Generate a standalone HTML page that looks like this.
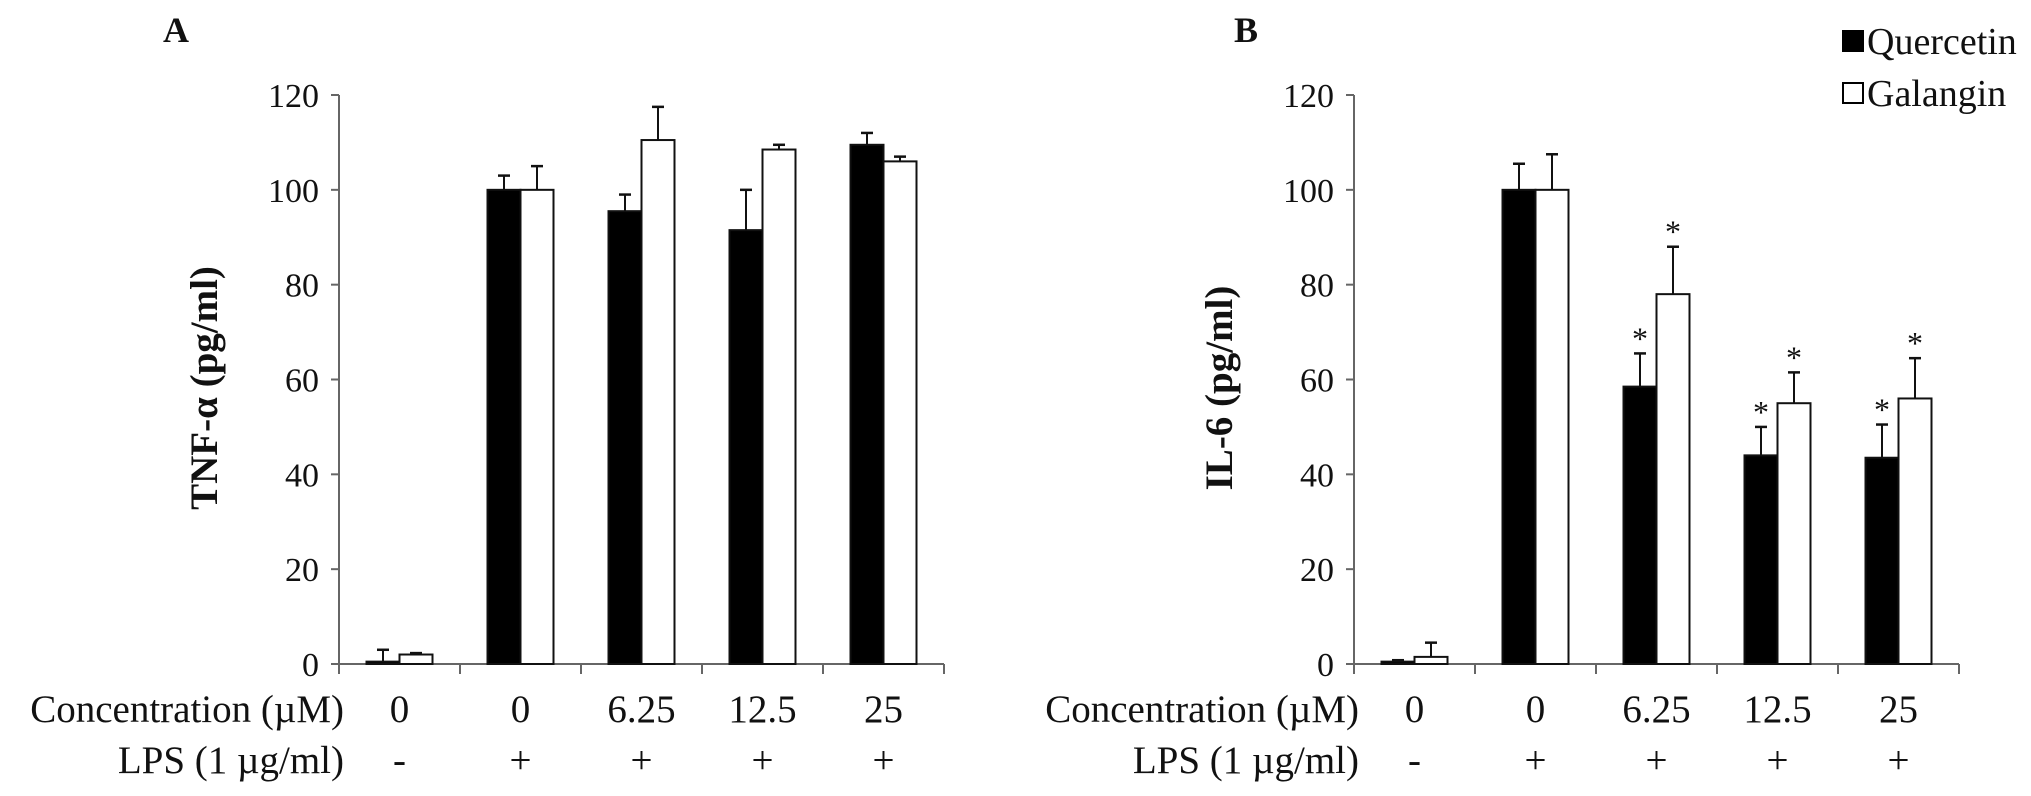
<!DOCTYPE html>
<html><head><meta charset="utf-8"><style>
html,body{margin:0;padding:0;background:#fff;}
svg{display:block;font-family:"Liberation Serif",serif;}
</style></head><body>
<svg id="c" width="2031" height="796" viewBox="0 0 2031 796"></svg>
<script>
const categories = ["0","0","6.25","12.5","25"];
const lpsLabels = ["-","+","+","+","+"];
const yTicks = [0,20,40,60,80,100,120];
const aQuercetin = [0.5,100,95.5,91.5,109.5];
const aQuercetinErr = [2.5,3,3.5,8.5,2.5];
const aGalangin = [2,100,110.5,108.5,106];
const aGalanginErr = [0.3,5,7,1,1];
const bQuercetin = [0.5,100,58.5,44,43.5];
const bQuercetinErr = [0.3,5.5,7,6,7];
const bGalangin = [1.5,100,78,55,56];
const bGalanginErr = [3,7.5,10,6.5,8.5];
const bQuercetinSig = [false,false,true,true,true];
const bGalanginSig = [false,false,true,true,true];

const svg = document.getElementById('c');
const NS = 'http://www.w3.org/2000/svg';
function mk(tag, attrs, parent){
  const e = document.createElementNS(NS, tag);
  for (const k in attrs) e.setAttribute(k, attrs[k]);
  (parent||svg).appendChild(e);
  return e;
}
const Y0 = 664, Y120 = 95;
function yS(v){ return Y0 - (v/120)*(Y0-Y120); }

function panel(cfg){
  const g = mk('g', {});
  
  
  const ax = cfg.ax, cw = 121, bw = 33;
  function xC(i){ return ax + cw*(i+0.5); }
  const yl = mk('line', {x1:ax,y1:Y0,x2:ax,y2:Y120,stroke:'#666','stroke-width':2}, g);
  
  
  yTicks.forEach(t=>{
    mk('line',{x1:ax-8,y1:yS(t),x2:ax,y2:yS(t),stroke:'#666','stroke-width':2},g);
    const tx = mk('text',{x:ax-20,y:yS(t)+12,'text-anchor':'end','font-size':34,fill:'#111'},g);
    tx.textContent = t;
    
    
  });
  const xl = mk('line',{x1:ax,y1:Y0,x2:ax+cw*5,y2:Y0,stroke:'#666','stroke-width':2},g);
  
  
  for(let i=0;i<=5;i++) mk('line',{x1:ax+cw*i,y1:Y0,x2:ax+cw*i,y2:Y0+10,stroke:'#666','stroke-width':2},g);
  function bar(v,e,sig,x,fill,name){
    const top = yS(v);
    const r = mk('rect',{x:x,y:top,width:bw,height:Y0-top,fill:fill,stroke:'#111','stroke-width':2},g);
    
    
    const cx = x+bw/2, et = yS(v+e);
    mk('line',{x1:cx,y1:top,x2:cx,y2:et,stroke:'#111','stroke-width':2},g);
    mk('line',{x1:cx-6,y1:et,x2:cx+6,y2:et,stroke:'#111','stroke-width':2.5},g);
    if(sig){
      const s = mk('text',{x:cx,y:et-4,'text-anchor':'middle','font-size':32,fill:'#111'},g);
      s.textContent = '*';
      
      
    }
  }
  categories.forEach((c,i)=>{
    const cx = xC(i);
    bar(cfg.q[i],cfg.qe[i],cfg.qs?cfg.qs[i]:false,cx-bw,'#000','bar-quercetin');
    bar(cfg.g[i],cfg.ge[i],cfg.gs?cfg.gs[i]:false,cx,'#fff','bar-galangin');
    const t = mk('text',{x:cx,y:722,'text-anchor':'middle','font-size':39,fill:'#111'},g);
    t.textContent = c;
    
    
    const l = mk('text',{x:cx,y:773,'text-anchor':'middle','font-size':39,fill:'#111'},g);
    l.textContent = lpsLabels[i];
    
    
  });
  const r1 = mk('text',{x:ax+5,y:722,'text-anchor':'end','font-size':39,fill:'#111'},g);
  r1.textContent = 'Concentration (\u00b5M)';
  
  
  const r2 = mk('text',{x:ax+5,y:773,'text-anchor':'end','font-size':39,fill:'#111'},g);
  r2.textContent = 'LPS (1 \u00b5g/ml)';
  
  
  const yt = mk('text',{x:0,y:0,transform:'translate('+(cfg.ax-122)+',388) rotate(-90)','text-anchor':'middle','font-size':39,'font-weight':'bold',fill:'#111'},g);
  yt.textContent = cfg.ytitle;
  
  
  const pl = mk('text',{x:cfg.lx,y:42,'font-size':36,'font-weight':'bold',fill:'#111'},g);
  pl.textContent = cfg.letter;
  
  
}
panel({name:'panel-a',ax:339,q:aQuercetin,qe:aQuercetinErr,g:aGalangin,ge:aGalanginErr,ytitle:'TNF-\u03b1 (pg/ml)',letter:'A',lx:163});
panel({name:'panel-b',ax:1354,q:bQuercetin,qe:bQuercetinErr,g:bGalangin,ge:bGalanginErr,qs:bQuercetinSig,gs:bGalanginSig,ytitle:'IL-6 (pg/ml)',letter:'B',lx:1234});
const lg = mk('g',{});


const e1 = mk('rect',{x:1843,y:31,width:20,height:20,fill:'#000',stroke:'#000','stroke-width':2},lg);


const t1 = mk('text',{x:1867,y:54,'font-size':38,fill:'#111'},lg);
t1.textContent = 'Quercetin';


const e2 = mk('rect',{x:1843,y:83,width:20,height:20,fill:'#fff',stroke:'#000','stroke-width':2},lg);


const t2 = mk('text',{x:1867,y:106,'font-size':38,fill:'#111'},lg);
t2.textContent = 'Galangin';


</script>
</body></html>
